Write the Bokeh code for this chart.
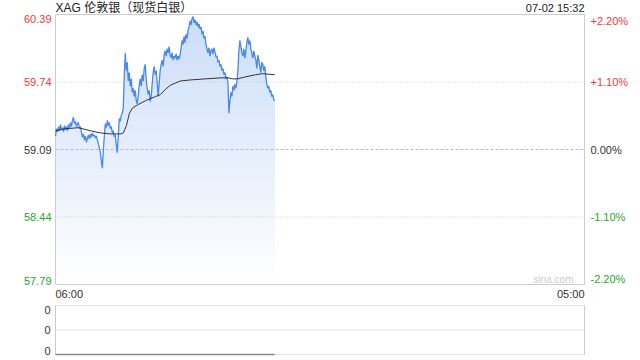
import numpy as np
from bokeh.plotting import figure
from bokeh.models import Range1d, LinearAxis, ColumnDataSource
from bokeh.core.properties import value
from bokeh.embed import file_html
from bokeh.resources import INLINE

# ---------------- data ----------------
title_text = "XAG 伦敦银（现货白银）"
stamp_text = "07-02 15:32"
x_tick_labels = ["06:00", "05:00"]
session_minutes = 1380          # 06:00 -> 05:00 next day
prev_close = 59.09
price_ticks = [60.39, 59.74, 59.09, 58.44, 57.79]
price_labels = ["60.39", "59.74", "59.09", "58.44", "57.79"]
pct_labels = ["+2.20%", "+1.10%", "0.00%", "-1.10%", "-2.20%"]

price = [
    59.22, 59.29, 59.26, 59.31, 59.27, 59.33, 59.28, 59.30, 59.26, 59.32,
    59.28, 59.31, 59.27, 59.33, 59.30, 59.35, 59.31, 59.37, 59.40, 59.34,
    59.36, 59.31, 59.34, 59.35, 59.29, 59.31, 59.26, 59.21, 59.24, 59.18,
    59.22, 59.16, 59.20, 59.23, 59.19, 59.24, 59.21, 59.25, 59.22, 59.23,
    59.20, 59.22, 59.18, 59.15, 59.10, 59.06, 58.98, 58.91, 59.08, 59.22,
    59.34, 59.30, 59.37, 59.32, 59.35, 59.29, 59.31, 59.25, 59.27, 59.21,
    59.23, 59.13, 59.06, 59.22, 59.39, 59.36, 59.42, 59.44, 59.49, 59.80,
    60.02, 59.85, 59.93, 59.75, 59.83, 59.70, 59.77, 59.64, 59.68, 59.60,
    59.66, 59.56, 59.53, 59.61, 59.71, 59.77, 59.70, 59.81, 59.75, 59.87,
    59.91, 59.77, 59.68, 59.62, 59.66, 59.55, 59.60, 59.72, 59.83, 59.89,
    59.81, 59.85, 59.74, 59.60, 59.72, 59.85, 59.91, 59.95, 59.89, 60.00,
    60.04, 59.99, 60.06, 60.02, 60.08, 60.00, 59.97, 60.02, 59.95, 59.99,
    59.97, 60.01, 59.95, 59.99, 59.96, 60.00, 60.06, 60.14, 60.10, 60.18,
    60.12, 60.20, 60.16, 60.24, 60.27, 60.33, 60.29, 60.35, 60.37, 60.31,
    60.34, 60.29, 60.32, 60.27, 60.30, 60.25, 60.27, 60.20, 60.23, 60.16,
    60.18, 60.10, 60.06, 60.02, 60.07, 59.99, 60.04, 60.06, 60.01, 60.07,
    60.03, 59.98, 59.99, 59.93, 59.95, 59.89, 59.91, 59.85, 59.87, 59.81,
    59.83, 59.77, 59.79, 59.74, 59.44, 59.56, 59.64, 59.60, 59.70, 59.66,
    59.72, 59.68, 59.74, 59.85, 60.04, 60.14, 60.08, 60.02, 59.99, 60.06,
    59.97, 60.04, 60.12, 60.17, 60.10, 60.14, 60.06, 60.02, 59.97, 60.04,
    59.99, 59.95, 59.87, 60.00, 59.95, 59.89, 59.83, 59.93, 59.91, 59.85,
    59.89, 59.79, 59.72, 59.68, 59.70, 59.64, 59.66, 59.60, 59.62, 59.57,
    59.56,
]
step_minutes = 2.6
price_minutes = [i * step_minutes for i in range(len(price))]

avg_minutes = [0, 26, 60, 91, 117, 143, 170, 177, 185, 193, 201, 214, 235,
               261, 274, 287, 300, 313, 326, 352, 391, 430, 451, 462, 475,
               496, 522, 540, 572]
avg_price = [59.27, 59.29, 59.30, 59.27, 59.25, 59.24, 59.24, 59.25, 59.32,
             59.44, 59.49, 59.52, 59.56, 59.60, 59.62, 59.67, 59.71, 59.73,
             59.75, 59.76, 59.77, 59.78, 59.78, 59.77, 59.77, 59.79, 59.81,
             59.82, 59.81]

volume = [0] * len(price)
vol_ticks = [1.0, 0.5, 0.0]
vol_labels = ["0", "0", "0"]

# ---------------- layout geometry (pixels) ----------------
W, H = 640, 360
L, R = 55, 584            # plot panels left / right
T, B = 14, 284            # price panel top / bottom
VT, VB = 305, 354         # volume panel top / bottom

FONT = "Liberation Sans"
RED = "#f03a3a"
GREEN = "#1fa81f"
DARK = "#333333"
BORDER = "#cccccc"
LINE_BLUE = "#4a88ee"

ymin, ymax = price_ticks[-1], price_ticks[0]
mpp = session_minutes / (R - L)
ppp = (ymax - ymin) / (B - T)
vpp = (vol_ticks[0] - vol_ticks[-1]) / (VB - VT)

p = figure(width=W, height=H, output_backend="svg", toolbar_location=None,
           x_axis_location=None, y_axis_location=None,
           x_range=Range1d(-L * mpp, session_minutes + (W - R) * mpp),
           y_range=Range1d(ymin - (H - B) * ppp, ymax + T * ppp),
           min_border=0)
p.extra_y_ranges = {"vol": Range1d(vol_ticks[-1] - (H - VB) * vpp,
                                   vol_ticks[0] + VT * vpp)}
p.xgrid.visible = False
p.ygrid.visible = False
p.outline_line_color = None
p.background_fill_color = "white"
p.border_fill_color = "white"

# gradient fill under the price line (overlapping bands, top colour first)
pr = np.array(price)
nb = 54
edges = np.linspace(ymin, ymax, nb + 1)
top_rgb = np.array([203, 221, 249])
bot_rgb = np.array([255, 255, 255])
for k in reversed(range(nb)):
    frac = (k + 0.5) / nb
    rgb = bot_rgb + (top_rgb - bot_rgb) * frac
    col = "#%02x%02x%02x" % tuple(int(round(c)) for c in rgb)
    y2 = np.clip(pr, ymin, edges[k + 1])
    p.varea(x=price_minutes, y1=np.full(len(pr), ymin), y2=y2, fill_color=col)

# price grid lines
for v in price_ticks[1:-1]:
    if v == prev_close:
        p.segment(x0=0, y0=v, x1=session_minutes, y1=v, line_color="#bbbbbb",
                  line_dash="3 2", line_width=1)
    else:
        p.segment(x0=0, y0=v, x1=session_minutes, y1=v, line_color="#cccccc",
                  line_dash="1 2", line_width=1)

# price panel border
p.quad(left=0, right=session_minutes, bottom=ymin, top=ymax,
       fill_color=None, line_color=BORDER, line_width=1)

p.line(price_minutes, price, line_color=LINE_BLUE, line_width=1.3)
p.line(avg_minutes, avg_price, line_color="#333333", line_width=1)

# price tick labels
n = len(price_ticks)
cols = [RED if v > prev_close else (GREEN if v < prev_close else DARK)
        for v in price_ticks]
bases = ["top"] + ["middle"] * (n - 2) + ["bottom"]
lsrc = ColumnDataSource(dict(y=price_ticks, t=price_labels, c=cols, b=bases,
                             x=[0] * n))
rsrc = ColumnDataSource(dict(y=price_ticks, t=pct_labels, c=cols, b=bases,
                             x=[session_minutes] * n))
for src, align, off in ((lsrc, "right", -4), (rsrc, "left", 6)):
    for b in ("top", "middle", "bottom"):
        idx = [i for i in range(n) if bases[i] == b]
        sub = ColumnDataSource({k: [src.data[k][i] for i in idx] for k in src.data})
        p.text(x="x", y="y", text="t", source=sub, text_color="c",
               text_align=align, text_baseline=b, x_offset=off,
               text_font=value(FONT), text_font_size="11px")

# title, timestamp, time ticks, watermark
p.text(x=[0], y=[ymax], text=[title_text], x_offset=0, y_offset=-7,
       text_align="left", text_baseline="middle",
       text_font=value(FONT + ", Noto Sans CJK SC"), text_font_size="12px",
       text_color="#222222")
p.text(x=[session_minutes], y=[ymax], text=[stamp_text], y_offset=-7,
       text_align="right", text_baseline="middle", text_font=value(FONT),
       text_font_size="11px", text_color="#222222")
p.text(x=[0], y=[ymin], text=[x_tick_labels[0]], y_offset=3,
       text_align="left", text_baseline="top", text_font=value(FONT),
       text_font_size="11px", text_color=DARK)
p.text(x=[session_minutes], y=[ymin], text=[x_tick_labels[1]], y_offset=3,
       text_align="right", text_baseline="top", text_font=value(FONT),
       text_font_size="11px", text_color=DARK)
p.text(x=[session_minutes], y=[ymin], text=["sina.com"], x_offset=-11,
       y_offset=-5, text_align="right", text_baseline="middle",
       text_font=value(FONT), text_font_size="10px", text_color="#cccccc")

# ---------------- volume panel ----------------
for v in vol_ticks:
    p.segment(x0=0, y0=v, x1=session_minutes, y1=v, y_range_name="vol",
              line_color="#cccccc", line_dash="1 1", line_width=1)
for xv in (0, session_minutes):
    p.segment(x0=xv, y0=vol_ticks[-1], x1=xv, y1=vol_ticks[0],
              y_range_name="vol", line_color="#cccccc", line_width=1)
p.line(price_minutes, volume, y_range_name="vol", line_color="#888888",
       line_width=1.5)

vb = ["top", "middle", "bottom"]
for v, lab, b in zip(vol_ticks, vol_labels, vb):
    p.text(x=[0], y=[v], text=[lab], y_range_name="vol", x_offset=-5,
           text_align="right", text_baseline=b, text_font=value(FONT),
           text_font_size="11px", text_color=DARK)

open("out.html", "w").write(file_html(p, INLINE))
